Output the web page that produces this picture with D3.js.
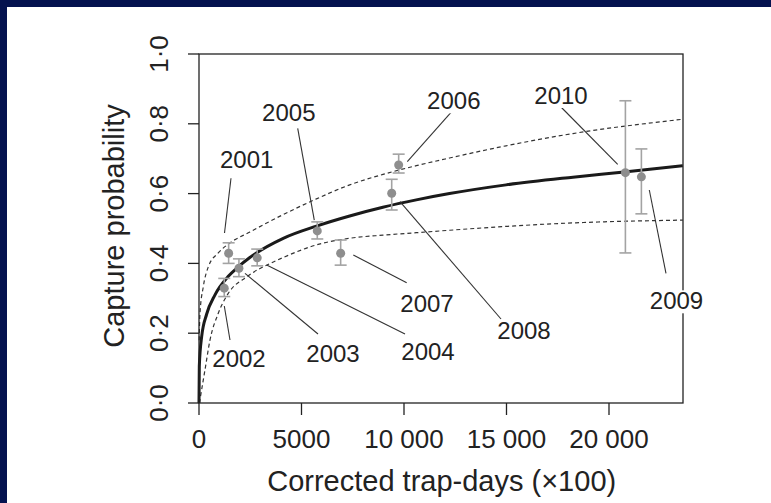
<!DOCTYPE html>
<html><head><meta charset="utf-8">
<script src="https://cdn.jsdelivr.net/npm/d3@7"></script>
<style>html,body{margin:0;padding:0;background:#fff;} svg{display:block}</style>
</head><body>
<svg id="c" width="771" height="503"></svg>
<script>
// ---- data ----
const years     = [2001, 2002, 2003, 2004, 2005, 2006, 2007, 2008, 2009, 2010];
const trapDays  = [1446, 1232, 1948, 2840, 5770, 9740, 6910, 9400, 21580, 20800];
const capture   = [0.429, 0.329, 0.386, 0.416, 0.493, 0.682, 0.429, 0.601, 0.648, 0.660];
const ciLow     = [0.400, 0.305, 0.362, 0.393, 0.470, 0.659, 0.395, 0.553, 0.542, 0.430];
const ciHigh    = [0.459, 0.357, 0.413, 0.441, 0.519, 0.713, 0.467, 0.641, 0.728, 0.866];

// fitted curve (solid) and its bounds (dashed)
const fitX   = [0, 15, 130, 375, 780, 1430, 1910, 2480, 4110, 5730, 7350, 8970, 10600, 12220, 14980, 18240, 20740, 23600];
const fitP   = [0, 0.105, 0.19, 0.255, 0.31, 0.363, 0.39, 0.417, 0.472, 0.507, 0.536, 0.561, 0.582, 0.600, 0.625, 0.647, 0.662, 0.680];
const upX    = [8, 49, 209, 453, 940, 1420, 2483, 4112, 5731, 7352, 8974, 10600, 12220, 14980, 18240, 23600];
const upP    = [0.18, 0.258, 0.333, 0.39, 0.43, 0.455, 0.49, 0.54, 0.585, 0.625, 0.655, 0.680, 0.702, 0.737, 0.772, 0.813];
const loX    = [20, 292, 535, 940, 1427, 2340, 3700, 4112, 5731, 7352, 8974, 10600, 12220, 14980, 18240, 23600];
const loP    = [0, 0.095, 0.18, 0.257, 0.314, 0.362, 0.406, 0.417, 0.453, 0.472, 0.481, 0.488, 0.495, 0.506, 0.516, 0.524];

// axis ticks
const xTicks      = [0, 5000, 10000, 15000, 20000];
const xTickLabels = ["0", "5000", "10 000", "15 000", "20 000"];
const yTicks      = [0, 0.2, 0.4, 0.6, 0.8, 1.0];
const yTickLabels = ["0\u00b70", "0\u00b72", "0\u00b74", "0\u00b76", "0\u00b78", "1\u00b70"];

// year labels (data coords) and leader lines
const labelX  = [2327, 1951, 6537, 11171, 4380, 12429, 11122, 15854, 23293, 17659];
const labelY  = [0.6725, 0.103, 0.1175, 0.1232, 0.809, 0.8415, 0.2599, 0.1834, 0.2685, 0.8567];
const leadX1  = [1561, 1512, 5805, 10049, 4815, 12327, 10132, 14732, 22780, 17610];
const leadY1  = [0.644, 0.1805, 0.1977, 0.1977, 0.787, 0.8347, 0.3447, 0.2407, 0.3716, 0.851];
const leadX2  = [1244, 1234, 2244, 3302, 5624, 10161, 7527, 9805, 21966, 20424];
const leadY2  = [0.487, 0.278, 0.3716, 0.3954, 0.524, 0.6914, 0.424, 0.5768, 0.6103, 0.684];

// ---- drawing ----
const svg = d3.select("#c");
const W = 771, H = 503;
const L = 199, R = 683, T = 54, B = 403;
const font = "'Liberation Sans', Arial, Helvetica, sans-serif";

svg.append("rect").attr("width", W).attr("height", H).attr("fill", "#04124f");
svg.append("rect").attr("x", 7).attr("y", 7).attr("width", W - 7).attr("height", H - 7).attr("fill", "#fff");

const x = d3.scaleLinear().domain([0, 23610]).range([L, R]);
const y = d3.scaleLinear().domain([0, 1]).range([B, T]);

const g = svg.append("g");

// curves
const line = d3.line().x(d => x(d[0])).y(d => y(d[1])).curve(d3.curveMonotoneX);
g.append("path").datum(d3.zip(upX, upP)).attr("d", line)
  .attr("fill", "none").attr("stroke", "#333").attr("stroke-width", 1.2).attr("stroke-dasharray", "4,3");
g.append("path").datum(d3.zip(loX, loP)).attr("d", line)
  .attr("fill", "none").attr("stroke", "#333").attr("stroke-width", 1.2).attr("stroke-dasharray", "4,3");
g.append("path").datum(d3.zip(fitX, fitP)).attr("d", line)
  .attr("fill", "none").attr("stroke", "#1a1a1a").attr("stroke-width", 3);

// leader lines
years.forEach((yr, i) => {
  g.append("line")
    .attr("x1", x(leadX1[i])).attr("y1", y(leadY1[i]))
    .attr("x2", x(leadX2[i])).attr("y2", y(leadY2[i]))
    .attr("stroke", "#333").attr("stroke-width", 1.1);
});

// error bars and points
const barCol = "#a3a3a3", capW = 6;
years.forEach((yr, i) => {
  const cx = x(trapDays[i]);
  g.append("line").attr("x1", cx).attr("x2", cx).attr("y1", y(ciLow[i])).attr("y2", y(ciHigh[i]))
    .attr("stroke", barCol).attr("stroke-width", 1.6);
  [ciLow[i], ciHigh[i]].forEach(v => {
    g.append("line").attr("x1", cx - capW).attr("x2", cx + capW).attr("y1", y(v)).attr("y2", y(v))
      .attr("stroke", barCol).attr("stroke-width", 1.6);
  });
  g.append("circle").attr("cx", cx).attr("cy", y(capture[i])).attr("r", 4.5).attr("fill", "#8e8e8e");
});

// box
svg.append("rect").attr("x", L).attr("y", T).attr("width", R - L).attr("height", B - T)
  .attr("fill", "none").attr("stroke", "#222").attr("stroke-width", 1.3);

// year labels (with white background)
years.forEach((yr, i) => {
  const t = svg.append("text").attr("x", x(labelX[i])).attr("y", y(labelY[i]))
    .attr("text-anchor", "middle").attr("font-family", font).attr("font-size", 24)
    .attr("fill", "#222").text(yr);
  const bb = t.node().getBBox();
  svg.insert("rect", () => t.node()).attr("x", bb.x - 1).attr("y", bb.y + 3).attr("width", bb.width + 2).attr("height", bb.height - 4)
    .attr("fill", "#fff");
});

// x axis
const xa = svg.append("g");
xTicks.forEach((v, i) => {
  xa.append("line").attr("x1", x(v)).attr("x2", x(v)).attr("y1", B).attr("y2", B + 12)
    .attr("stroke", "#222").attr("stroke-width", 1.3);
  xa.append("text").attr("x", x(v)).attr("y", 448).attr("text-anchor", "middle")
    .attr("font-family", font).attr("font-size", 26).attr("fill", "#222").text(xTickLabels[i]);
});
// y axis
const ya = svg.append("g");
yTicks.forEach((v, i) => {
  ya.append("line").attr("x1", L - 11).attr("x2", L).attr("y1", y(v)).attr("y2", y(v))
    .attr("stroke", "#222").attr("stroke-width", 1.3);
  ya.append("text").attr("transform", `translate(168,${y(v)}) rotate(-90)`).attr("text-anchor", "middle")
    .attr("font-family", font).attr("font-size", 26).attr("fill", "#222").text(yTickLabels[i]);
});

svg.append("text").attr("x", 441.7).attr("y", 491).attr("text-anchor", "middle")
  .attr("font-family", font).attr("font-size", 29).attr("fill", "#222").text("Corrected trap-days (\u00d7100)");
svg.append("text").attr("transform", "translate(124,226) rotate(-90)").attr("text-anchor", "middle")
  .attr("font-family", font).attr("font-size", 29).attr("fill", "#222").text("Capture probability");
</script>
</body></html>
